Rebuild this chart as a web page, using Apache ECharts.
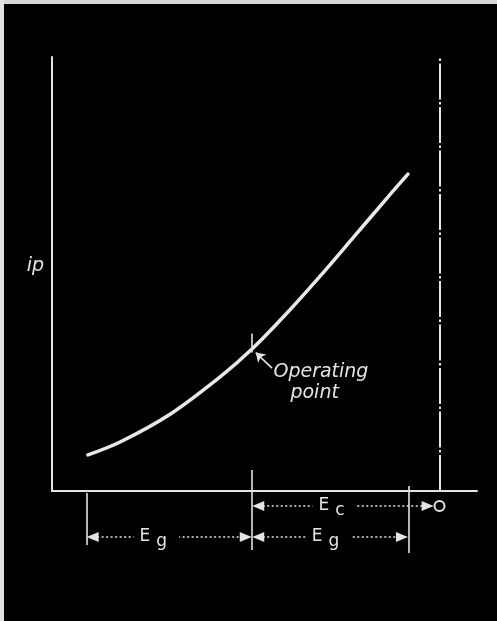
<!DOCTYPE html>
<html>
<head>
<meta charset="utf-8">
<script src="https://cdn.jsdelivr.net/npm/echarts@6/dist/echarts.min.js"></script>
<style>
html,body{margin:0;padding:0;background:#000;}
#wrap{position:relative;width:497px;height:621px;overflow:hidden;}
#chart{width:497px;height:621px;}
#wrap:before{content:'';position:absolute;left:0;top:0;width:497px;height:4px;background:#d6d6d6;z-index:2;}
#wrap:after{content:'';position:absolute;left:0;top:0;width:4px;height:621px;background:#e2e2e2;z-index:2;}
</style>
</head>
<body>
<div id="wrap"><div id="chart"></div></div>
<script>
// ---- data (grid voltage in volts, plate current in arbitrary units) ----
const gridVolts    = [-11.25, -10.22, -8.62, -7.02, -6.0, -4.88, -3.82, -2.77, -1.68, -1.01];
const plateCurrent = [0.83, 1.13, 1.77, 2.63, 3.27, 4.10, 4.95, 5.83, 6.75, 7.30];
const operatingPoint = [-6.0, 3.27];   // bias point on the curve
const biasEc = -6.0;                   // grid bias E_c
const swingLow = -11.3;                // E_g swing, negative peak
const swingHigh = -1.0;                // E_g swing, positive peak
const zeroGrid = 0;                    // zero grid voltage (dash-dot line)
const yAxisLabel = 'ip';
const opText = ['Operating', 'point'];

const curve = gridVolts.map((v, i) => [v, plateCurrent[i]]);

// annotation rows (lower panel, arbitrary units, top = 0)
const rowEc = 4.6, rowEg = 7.7;

const W = '#e4e4e4';
const FONT = 'DejaVu Sans';
const dotted = {type: [2, 2.5], width: 1.6, color: W};
const solid = {type: 'solid', width: 1.6, color: W};
const ARW = [10, 12];

const chart = echarts.init(document.getElementById('chart'), null, {renderer: 'canvas'});

const dim = (x0, x1, row, endSym) => [
  {coord: [x0, row], lineStyle: dotted, symbol: 'triangle', symbolSize: ARW},
  {coord: [x1, row], symbol: endSym || 'triangle', symbolSize: ARW}
];
const tick = (x, y0, y1) => [
  {coord: [x, y0], symbol: 'none', lineStyle: solid},
  {coord: [x, y1], symbol: 'none'}
];

const subLabel = (main, sub, coord) => ({
  coord: coord,
  symbol: 'circle', symbolSize: 1,
  itemStyle: {color: 'rgba(0,0,0,0)'},
  label: {
    show: true, position: 'inside',
    formatter: '{e|' + main + '}{s|' + sub + '}',
    backgroundColor: '#000', padding: [0, 12, 0, 6],
    rich: {
      e: {fontFamily: FONT, fontSize: 17, color: W},
      s: {fontFamily: FONT, fontSize: 17, color: W, padding: [9, 0, 0, 6]}
    }
  }
});

const option = {
  backgroundColor: '#000',
  animation: false,
  grid: [
    {left: 52, right: 20, top: 57, bottom: 130},
    {left: 52, right: 20, top: 460, height: 100}
  ],
  xAxis: [
    {type: 'value', gridIndex: 0, min: -12.4, max: 1.2,
     axisLine: {show: true, onZero: false, lineStyle: {color: W, width: 2}},
     axisTick: {show: false}, axisLabel: {show: false}, splitLine: {show: false}},
    {type: 'value', gridIndex: 1, min: -12.4, max: 1.2, show: false}
  ],
  yAxis: [
    {type: 'value', gridIndex: 0, min: 0, max: 10,
     name: yAxisLabel, nameLocation: 'middle', nameRotate: 0, nameGap: 8,
     nameTextStyle: {color: W, fontFamily: FONT, fontStyle: 'italic', fontSize: 19, verticalAlign: 'bottom', lineHeight: 16},
     axisLine: {show: true, onZero: false, lineStyle: {color: W, width: 2}},
     axisTick: {show: false}, axisLabel: {show: false}, splitLine: {show: false}},
    {type: 'value', gridIndex: 1, min: 0, max: 10, inverse: true, show: false}
  ],
  series: [
    {
      type: 'line', xAxisIndex: 0, yAxisIndex: 0,
      data: curve, smooth: 0.3, showSymbol: false, clip: false,
      lineStyle: {color: '#e8e8e8', width: 3.5, cap: 'round'},
      markLine: {
        silent: true, animation: false,
        label: {show: false},
        data: [
          [{coord: [zeroGrid, 0], symbol: 'none', lineStyle: {type: [36, 2.5, 2.5, 2.5], width: 2, color: W}},
           {coord: [zeroGrid, 10], symbol: 'none'}],
          tick(operatingPoint[0], operatingPoint[1] - 0.08, operatingPoint[1] + 0.36),
          [{coord: [operatingPoint[0] + 0.64, operatingPoint[1] - 0.44], symbol: 'none', lineStyle: solid},
           {coord: [operatingPoint[0] + 0.12, operatingPoint[1] - 0.08], symbol: 'arrow', symbolSize: 9}]
        ]
      },
      markPoint: {
        silent: true, animation: false,
        data: [{
          coord: [operatingPoint[0] + 0.67, operatingPoint[1] - 0.78],
          symbol: 'circle', symbolSize: 1, itemStyle: {color: 'rgba(0,0,0,0)'},
          label: {
            show: true, position: 'right', distance: 0,
            formatter: '{a|' + opText[0] + '}\n{b|' + opText[1] + '}',
            rich: {
              a: {fontFamily: FONT, fontStyle: 'italic', fontSize: 19, color: W, lineHeight: 21},
              b: {fontFamily: FONT, fontStyle: 'italic', fontSize: 19, color: W, lineHeight: 21, padding: [0, 0, 0, 17]}
            }
          }
        }]
      }
    },
    {
      type: 'line', xAxisIndex: 1, yAxisIndex: 1, data: [], clip: false,
      markLine: {
        silent: true, animation: false,
        label: {show: false},
        data: [
          tick(swingLow, 3.3, 8.5),
          tick(biasEc, 1.0, 9.0),
          tick(swingHigh, 2.6, 9.3),
          dim(biasEc + 0.2, zeroGrid - 0.38, rowEc),
          dim(swingLow + 0.2, biasEc - 0.2, rowEg),
          dim(biasEc + 0.2, swingHigh - 0.2, rowEg)
        ]
      },
      markPoint: {
        silent: true, animation: false,
        data: [
          subLabel('E', 'c', [-3.36, rowEc]),
          subLabel('E', 'g', [-9.06, rowEg]),
          subLabel('E', 'g', [-3.55, rowEg])
        ]
      }
    },
    {
      type: 'scatter', xAxisIndex: 1, yAxisIndex: 1, silent: true, z: 5,
      data: [[zeroGrid, rowEc]],
      symbol: 'circle', symbolSize: 10,
      itemStyle: {color: '#000', borderColor: W, borderWidth: 2, opacity: 1}
    }
  ]
};
chart.setOption(option);
</script>
</body>
</html>
